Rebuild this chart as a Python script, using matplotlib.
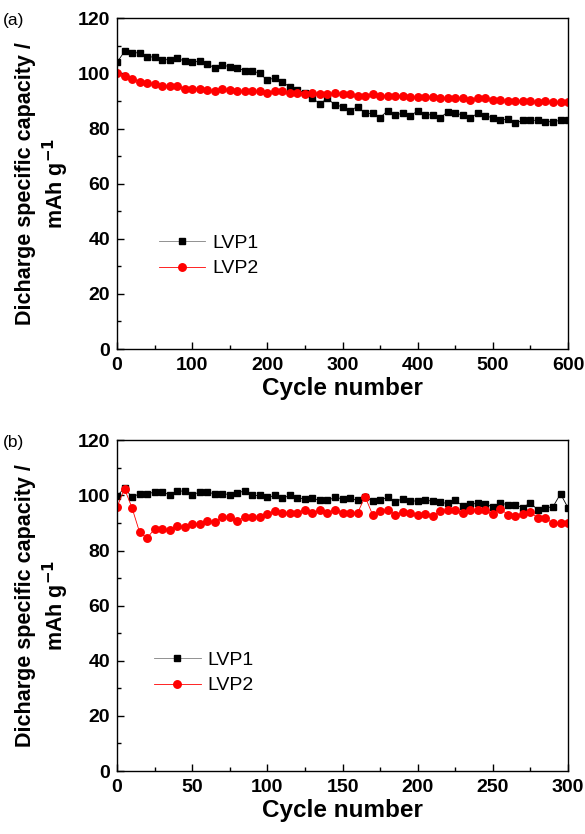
import numpy as np
import matplotlib
matplotlib.use('Agg')
import matplotlib.pyplot as plt
from matplotlib.ticker import MultipleLocator

plt.rcParams['font.family'] = ['Liberation Sans', 'DejaVu Sans']

# (a) long cycling, one point every 10 cycles
cycles_a = np.arange(0, 601, 10)
lvp1_a = [104, 108, 107.5, 107.5, 106, 106, 105, 105, 105.5, 104.5,
          104, 104.5, 103.5, 102, 103, 102.5, 102, 101, 101, 100,
          97.5, 98.5, 97, 95, 94, 93, 91, 89, 91, 88.5,
          88, 86.5, 88, 85.5, 85.5, 84, 86.5, 85, 85.5, 84.5,
          86.5, 85, 85, 84, 86, 85.5, 85, 84, 85.5, 84.5,
          84, 83, 83.5, 82, 83, 83, 83, 82.5, 82.5, 83, 83]
lvp2_a = [100, 99, 98, 97, 96.5, 96, 95.5, 95.5, 95.5, 94.5,
          94.5, 94.5, 94, 93.5, 94.5, 94, 93.5, 93.5, 93.5, 93.5,
          93, 93.5, 93.5, 93, 93, 92.5, 93, 92.5, 92.5, 93,
          92.5, 92.5, 92, 92, 92.5, 92, 92, 92, 92, 91.5,
          91.5, 91.5, 91.5, 91, 91, 91, 91, 90.5, 91, 91,
          90.5, 90.5, 90, 90, 90, 90, 89.5, 90, 89.5, 89.5, 89.5]

# (b) one point every 5 cycles
cycles_b = np.arange(0, 301, 5)
lvp1_b = [99.7, 102.8, 99.3, 100.7, 100.6, 101.2, 101.2, 100.3, 101.6, 101.6,
          100.3, 101.2, 101.2, 100.6, 100.7, 100.3, 101, 101.6, 100, 100,
          99.3, 100, 99, 100, 99, 98.8, 99, 98.2, 98.2, 99.3,
          98.8, 99, 98.2, 99.3, 98, 98.4, 99.3, 97.8, 98.8, 98,
          98, 98.2, 98, 97.5, 97.1, 98.2, 96.2, 96.9, 97.1, 96.8,
          95.9, 97.4, 96.5, 96.5, 95.6, 97.4, 94.6, 95.5, 95.9, 100.6, 95.5]
lvp2_b = [95.8, 102.4, 95.5, 86.7, 84.5, 87.9, 87.9, 87.3, 89.1, 88.5,
          89.7, 89.7, 90.9, 90.3, 92.1, 92.1, 90.9, 92.1, 92.1, 92.1,
          93.1, 94.3, 93.6, 93.6, 93.6, 94.9, 93.6, 94.6, 93.6, 94.9,
          93.6, 93.6, 93.6, 99.6, 93, 94.3, 94.9, 93, 93.9, 93.6,
          93, 93.1, 92.5, 94.3, 94.6, 94.9, 93.6, 94.6, 94.8, 94.9,
          93.1, 95.2, 93, 92.5, 93.4, 93.9, 91.8, 91.8, 89.9, 89.9, 89.9]

fig = plt.figure(figsize=(5.85, 8.34), dpi=100)
ax_a = fig.add_axes([0.2, 0.5815, 0.771, 0.3965])
ax_b = fig.add_axes([0.2, 0.0755, 0.771, 0.3965])


def style(ax, xmax, xmajor, xminor, legend_anchor):
    ax.set_xlim(0, xmax)
    ax.set_ylim(0, 120)
    ax.xaxis.set_major_locator(MultipleLocator(xmajor))
    ax.xaxis.set_minor_locator(MultipleLocator(xminor))
    ax.yaxis.set_major_locator(MultipleLocator(20))
    ax.yaxis.set_minor_locator(MultipleLocator(10))
    ax.tick_params(which='both', direction='in', labelsize=14, width=1.0)
    ax.tick_params(which='major', length=5)
    ax.tick_params(which='minor', length=3)
    ax.tick_params(axis='x', pad=6)
    ax.tick_params(axis='y', pad=5)
    for lab in ax.get_xticklabels() + ax.get_yticklabels():
        lab.set_fontweight('bold')
    for s in ax.spines.values():
        s.set_linewidth(1.0)
    ax.set_xlabel('Cycle number', fontsize=17.5, fontweight='bold', labelpad=2)
    ax.set_ylabel('Dicharge specific capacity /\nmAh g$^{\\mathbf{-1}}$',
                  fontsize=15.5, fontweight='bold', linespacing=1.2, labelpad=5)
    leg = ax.legend(loc='upper left', bbox_to_anchor=legend_anchor, frameon=False,
                    fontsize=14, handlelength=2.4, handletextpad=0.35,
                    labelspacing=0.4, borderaxespad=0)
    h = leg.legend_handles[0]
    h.set_color('gray')
    h.set_markerfacecolor('black')
    h.set_markeredgecolor('black')


ax_a.plot(cycles_a, lvp1_a, '-s', color='black', mfc='black', mec='black',
          ms=4.6, lw=0.6, label='LVP1')
ax_a.plot(cycles_a, lvp2_a, '-o', color='red', mfc='red', mec='red',
          ms=5.4, lw=0.6, label='LVP2')
style(ax_a, 600, 100, 50, (0.075, 0.37))

ax_b.plot(cycles_b, lvp1_b, '-s', color='black', mfc='black', mec='black',
          ms=4.6, lw=0.6, label='LVP1')
ax_b.plot(cycles_b, lvp2_b, '-o', color='red', mfc='red', mec='red',
          ms=5.4, lw=0.6, label='LVP2')
style(ax_b, 300, 50, 25, (0.065, 0.385))

fig.text(0.005, 0.985, '(a)', fontsize=12.5, va='top', ha='left')
fig.text(0.005, 0.478, '(b)', fontsize=12.5, va='top', ha='left')

fig.savefig('out.png', dpi=100)
